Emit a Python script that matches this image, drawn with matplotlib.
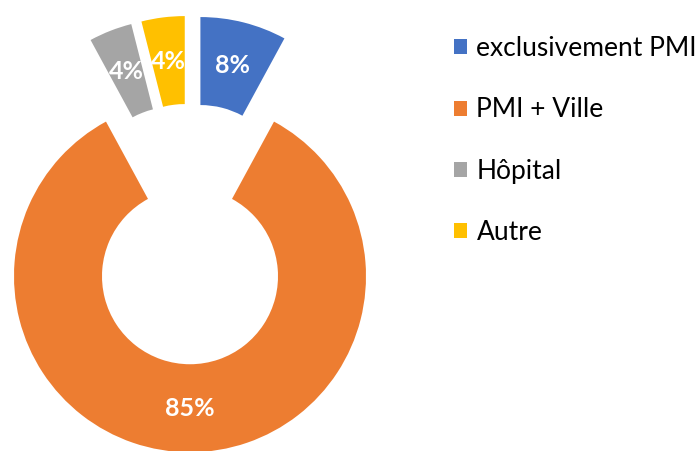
import matplotlib
matplotlib.use('Agg')
import matplotlib.pyplot as plt

# data
categories = ['exclusivement PMI', 'PMI + Ville', 'Hôpital', 'Autre']
values = [8, 85, 4, 4]
colors = ['#4472C4', '#ED7D31', '#A5A5A5', '#FFC000']

plt.rcParams['font.family'] = ['Lato', 'DejaVu Sans']

fig = plt.figure(figsize=(6.98, 4.51), dpi=100)
# pie area: left part of the figure, 1 data unit = radius = 176 px
ax = fig.add_axes([0, 0, 380 / 698, 1])

wedges, texts, autotexts = ax.pie(
    values, colors=colors, startangle=90, counterclock=False,
    explode=[0.24] * len(values), radius=1.0,
    wedgeprops=dict(width=0.5, linewidth=0),
    autopct='%d', pctdistance=0.75,
    textprops=dict(color='white', fontsize=18, fontweight='bold'))
for t, v in zip(autotexts, values):
    t.set_text(f'{v}%')

ax.set_aspect('auto')
ax.set_xlim(-190 / 176, 190 / 176)
ax.set_ylim(-217 / 176, 234 / 176)
ax.axis('off')

leg = fig.legend(wedges, categories, loc='upper left',
                 bbox_to_anchor=(454 / 698, 1 - 36 / 451),
                 frameon=False, fontsize=19, handlelength=0.5,
                 handleheight=0.5, handletextpad=0.35, labelspacing=1.38,
                 borderpad=0, borderaxespad=0)

fig.savefig('out.png', dpi=100)
